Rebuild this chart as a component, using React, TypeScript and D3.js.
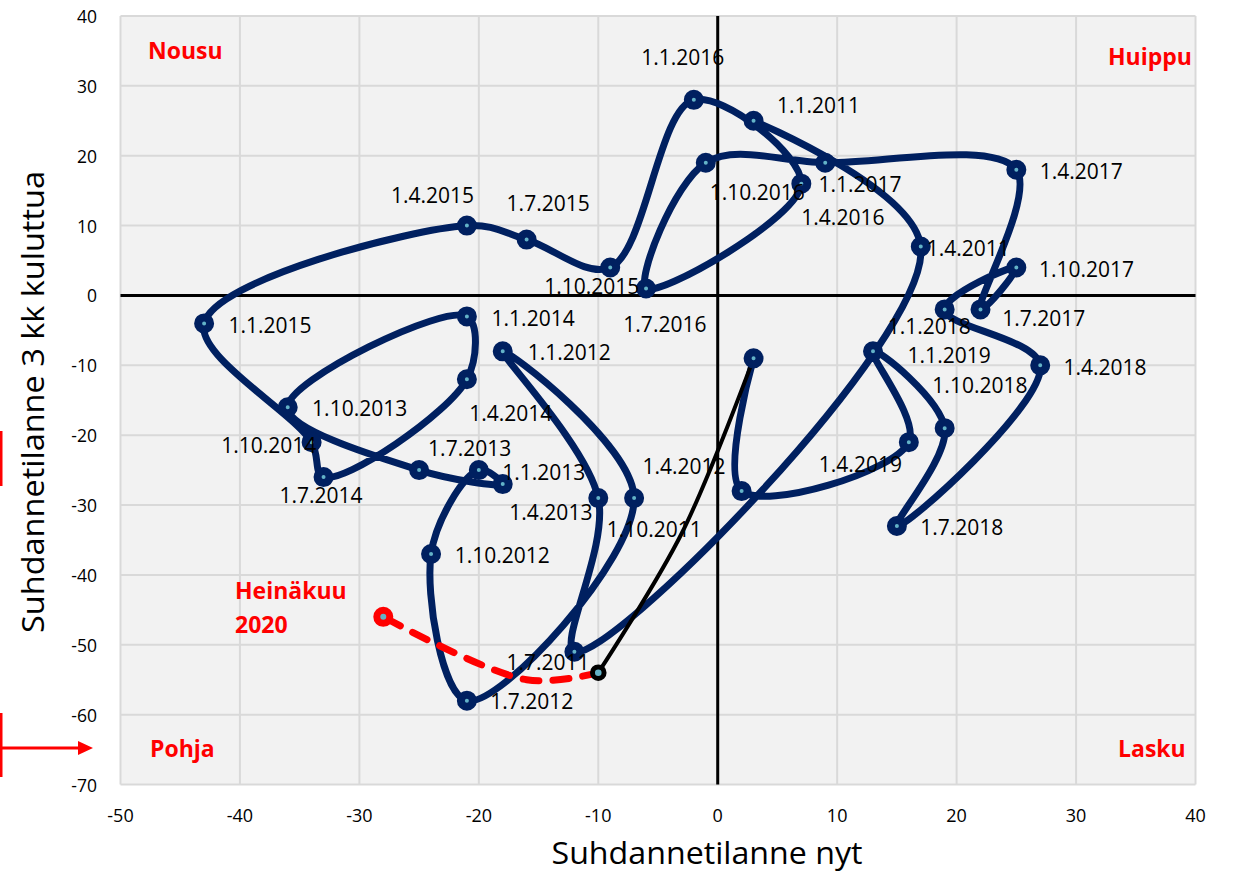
import React from "react";
import * as d3 from "d3";

// ---- Data ----
const dates = [
  "1.1.2011", "1.4.2011", "1.7.2011", "1.10.2011",
  "1.1.2012", "1.4.2012", "1.7.2012", "1.10.2012",
  "1.1.2013", "1.4.2013", "1.7.2013", "1.10.2013",
  "1.1.2014", "1.4.2014", "1.7.2014", "1.10.2014",
  "1.1.2015", "1.4.2015", "1.7.2015", "1.10.2015",
  "1.1.2016", "1.4.2016", "1.7.2016", "1.10.2016",
  "1.1.2017", "1.4.2017", "1.7.2017", "1.10.2017",
  "1.1.2018", "1.4.2018", "1.7.2018", "1.10.2018",
  "1.1.2019", "1.4.2019", "1.7.2019", "1.10.2019",
];
const nyt = [
  3, 17, -12, -10,
  -18, -7, -21, -24,
  -20, -18, -25, -36,
  -21, -21, -33, -34,
  -43, -21, -16, -9,
  -2, 7, -6, -1,
  9, 25, 22, 25,
  19, 27, 15, 19,
  13, 16, 2, 3,
];
const kuluttua = [
  25, 7, -51, -29,
  -8, -29, -58, -37,
  -25, -27, -25, -16,
  -3, -12, -26, -21,
  -4, 10, 8, 4,
  28, 16, 1, 19,
  19, 18, -2, 4,
  -2, -10, -33, -19,
  -8, -21, -28, -9,
];
const shownLabel = [
  true, true, true, true, true, true, true, true, true, true, true, true,
  true, true, true, true, true, true, true, true, true, true, true, true,
  true, true, true, true, true, true, true, true, true, true, false, false,
];
// 2020 spring (black) and July 2020 (red dashed)
const springNyt = [3, -3, -10];
const springKuluttua = [-9, -34, -54];
const julyNyt = [-10, -16, -28];
const julyKuluttua = [-54, -55, -46];

const xTicks = [-50, -40, -30, -20, -10, 0, 10, 20, 30, 40];
const yTicks = [-70, -60, -50, -40, -30, -20, -10, 0, 10, 20, 30, 40];
const quadrantNames = ["Nousu", "Huippu", "Pohja", "Lasku"];
const julyLabel = ["Heinäkuu", "2020"];
const xTitle = "Suhdannetilanne nyt";
const yTitle = "Suhdannetilanne 3 kk kuluttua";

// ---- Layout / style (not data) ----
const W = 1233;
const H = 875;
const PL = 120.5, PR = 1195.5, PT = 16, PB = 784.5;
const NAVY = "#002060";
const DOT = "#63b3c8";
const RED = "#ff0000";
const FONT = "'Open Sans', 'Liberation Sans', sans-serif";

// label offsets from their point (px): [dx to text start, dy to text centre]
const labelOffsets: [number, number][] = [
  [23.4, -15.7], [6, 1.7], [-68, 10.7], [8.4, 31],
  [25, 1], [8.4, -31.7], [23.3, 0.7], [23.6, 1],
  [23.4, 1.7], [6.6, 28.4], [9, -21.7], [24.4, 1],
  [24.7, 1.3], [2.3, 33.7], [-44, 18.3], [-90.3, 2.7],
  [24.4, 1.6], [-76, -31], [-20, -37], [-66, 18.7],
  [-52.6, -42.6], [0, 33.4], [-22.7, 35.7], [4, 29.4],
  [-6.7, 21.7], [23.3, 1.4], [21.7, 8.4], [22.6, 1.7],
  [-57, 16.4], [23.3, 1.7], [23.3, 1], [-12.3, -42.7],
  [34.6, 4], [-90, 21.6], [0, 0], [0, 0],
];
const quadrantPos: [number, number][] = [
  [148, 50], [1108, 56], [150, 748], [1118, 748],
];

export default function App() {
  const x = d3.scaleLinear().domain([-50, 40]).range([PL, PR]);
  const y = d3.scaleLinear().domain([-70, 40]).range([PB, PT]);

  const line = d3
    .line<[number, number]>()
    .x((d) => x(d[0]))
    .y((d) => y(d[1]))
    .curve(d3.curveCatmullRom.alpha(0.5));

  const mainPts: [number, number][] = nyt.map((v, i) => [v, kuluttua[i]]);
  const springPts: [number, number][] = springNyt.map((v, i) => [v, springKuluttua[i]]);
  const julyPts: [number, number][] = julyNyt.map((v, i) => [v, julyKuluttua[i]]);

  const springEnd = springPts[springPts.length - 1];
  const julyEnd = julyPts[julyPts.length - 1];

  return (
    <svg
      width={W}
      height={H}
      style={{ position: "absolute", left: 0, top: 0, background: "#fff" }}
      fontFamily={FONT}
    >
      <defs>
        <clipPath id="plotClip">
          <rect x={PL} y={PT} width={PR - PL} height={PB - PT} />
        </clipPath>
      </defs>

      {/* plot area */}
      <rect x={PL} y={PT} width={PR - PL} height={PB - PT} fill="#f2f2f2" />
      {xTicks.map((t) => (
        <line key={"gx" + t} x1={x(t)} x2={x(t)} y1={PT} y2={PB} stroke="#d9d9d9" strokeWidth={2} />
      ))}
      {yTicks.map((t) => (
        <line key={"gy" + t} x1={PL} x2={PR} y1={y(t)} y2={y(t)} stroke="#d9d9d9" strokeWidth={2} />
      ))}
      {/* zero axes */}
      <line x1={x(0)} x2={x(0)} y1={PT} y2={PB} stroke="#000" strokeWidth={3} />
      <line x1={PL} x2={PR} y1={y(0)} y2={y(0)} stroke="#000" strokeWidth={3} />

      {/* tick labels */}
      {yTicks.map((t) => (
        <text key={"ty" + t} x={97} y={y(t)} textAnchor="end" dominantBaseline="central" fontSize={17.5} fill="#000">
          {t}
        </text>
      ))}
      {xTicks.map((t) => (
        <text key={"tx" + t} x={x(t)} y={815} textAnchor="middle" dominantBaseline="central" fontSize={18} fill="#000">
          {t}
        </text>
      ))}

      {/* axis titles */}
      <text
        x={707}
        y={864}
        textAnchor="middle"
        fontSize={31}
        textLength={311}
        lengthAdjust="spacingAndGlyphs"
        fill="#000"
      >
        {xTitle}
      </text>
      <text
        transform={`translate(44,402) rotate(-90)`}
        textAnchor="middle"
        fontSize={31}
        textLength={462}
        lengthAdjust="spacingAndGlyphs"
        fill="#000"
      >
        {yTitle}
      </text>

      {/* main navy series */}
      <path d={line(mainPts) || ""} fill="none" stroke={NAVY} strokeWidth={7} strokeLinejoin="round" strokeLinecap="round" />

      {/* July 2020 red dashed */}
      <path
        d={line(julyPts) || ""}
        fill="none"
        stroke={RED}
        strokeWidth={7}
        strokeDasharray="16 14"
        strokeLinecap="round"
      />
      {/* spring 2020 black */}
      <path d={line(springPts) || ""} fill="none" stroke="#000" strokeWidth={4} strokeLinecap="round" />

      {/* markers */}
      {mainPts.map((p, i) => (
        <circle key={"m" + i} cx={x(p[0])} cy={y(p[1])} r={6} fill={DOT} stroke={NAVY} strokeWidth={8} />
      ))}
      <circle cx={x(julyEnd[0])} cy={y(julyEnd[1])} r={6.5} fill={DOT} stroke={RED} strokeWidth={7} />
      <circle cx={x(springEnd[0])} cy={y(springEnd[1])} r={5.8} fill={DOT} stroke="#000" strokeWidth={5} />

      {/* data labels */}
      {mainPts.map((p, i) =>
        shownLabel[i] ? (
          <text
            key={"l" + i}
            x={x(p[0]) + labelOffsets[i][0]}
            y={y(p[1]) + labelOffsets[i][1]}
            dominantBaseline="central"
            fontSize={21}
            fill="#000"
          >
            {dates[i]}
          </text>
        ) : null
      )}

      {/* quadrant names */}
      <g clipPath="url(#plotClip)">
        {quadrantNames.map((q, i) => (
          <text
            key={q}
            x={quadrantPos[i][0]}
            y={quadrantPos[i][1]}
            dominantBaseline="central"
            fontSize={23}
            fontWeight="bold"
            fill={RED}
          >
            {q}
          </text>
        ))}
      </g>
      {julyLabel.map((s, i) => (
        <text key={s} x={235} y={590 + i * 34} dominantBaseline="central" fontSize={23} fontWeight="bold" fill={RED}>
          {s}
        </text>
      ))}

      {/* red marks at the left edge */}
      <rect x={0} y={431} width={2.5} height={55} fill={RED} />
      <rect x={0} y={713} width={2.5} height={64} fill={RED} />
      <line x1={0} x2={80} y1={748} y2={748} stroke={RED} strokeWidth={3} />
      <path d="M 78 741 L 93 748 L 78 755 Z" fill={RED} />
    </svg>
  );
}
